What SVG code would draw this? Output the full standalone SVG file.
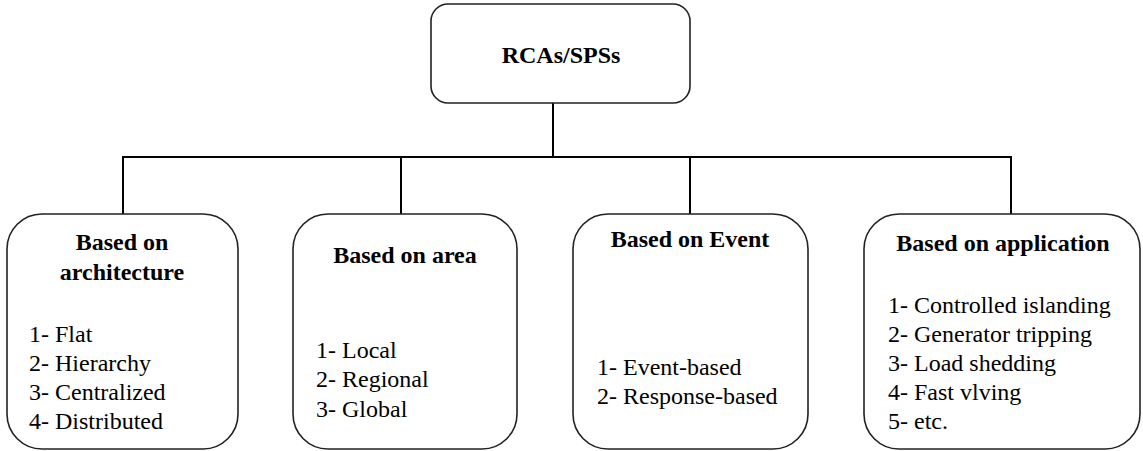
<svg xmlns="http://www.w3.org/2000/svg" width="1143" height="451" viewBox="0 0 1143 451">
  <style>
    .box { fill: #ffffff; stroke: #222222; stroke-width: 1.6; }
    .wire { fill: none; stroke: #000000; stroke-width: 2; }
    text { font-family: 'Liberation Serif', 'Times New Roman', serif; font-size: 24px; fill: #000000; }
    .head { font-weight: bold; text-anchor: middle; }
    .item { font-weight: normal; }
  </style>
  <rect width="1143" height="451" fill="#ffffff"/>

  <!-- tree connectors -->
  <g id="connectors">
    <line class="wire" x1="553" y1="103" x2="553" y2="157"/>
    <line class="wire" x1="122" y1="157" x2="1012" y2="157"/>
    <line class="wire" x1="123" y1="157" x2="123" y2="214"/>
    <line class="wire" x1="401" y1="157" x2="401" y2="214"/>
    <line class="wire" x1="690" y1="157" x2="690" y2="214"/>
    <line class="wire" x1="1011" y1="157" x2="1011" y2="214"/>
  </g>

  <g id="root">
    <rect class="box" x="431" y="4" width="259" height="99" rx="17" ry="17"/>
    <text class="head" x="561" y="63">RCAs/SPSs</text>
  </g>

  <g id="architecture">
    <rect class="box" x="7" y="214" width="231" height="235" rx="35" ry="35"/>
    <text class="head" x="122" y="250">Based on</text>
    <text class="head" x="122" y="280">architecture</text>
    <text class="item" x="29" y="342">1- Flat</text>
    <text class="item" x="29" y="371">2- Hierarchy</text>
    <text class="item" x="29" y="400">3- Centralized</text>
    <text class="item" x="29" y="429">4- Distributed</text>
  </g>

  <g id="area">
    <rect class="box" x="293" y="214" width="224" height="235" rx="35" ry="35"/>
    <text class="head" x="405" y="263">Based on area</text>
    <text class="item" x="316" y="358">1- Local</text>
    <text class="item" x="316" y="387">2- Regional</text>
    <text class="item" x="316" y="417">3- Global</text>
  </g>

  <g id="event">
    <rect class="box" x="573" y="214" width="235" height="235" rx="35" ry="35"/>
    <text class="head" x="690" y="247">Based on Event</text>
    <text class="item" x="597" y="375">1- Event-based</text>
    <text class="item" x="597" y="404">2- Response-based</text>
  </g>

  <g id="application">
    <rect class="box" x="864" y="214" width="276" height="235" rx="35" ry="35"/>
    <text class="head" x="1003" y="251">Based on application</text>
    <text class="item" x="888" y="313">1- Controlled islanding</text>
    <text class="item" x="888" y="342">2- Generator tripping</text>
    <text class="item" x="888" y="371">3- Load shedding</text>
    <text class="item" x="888" y="400">4- Fast vlving</text>
    <text class="item" x="888" y="429">5- etc.</text>
  </g>
</svg>
